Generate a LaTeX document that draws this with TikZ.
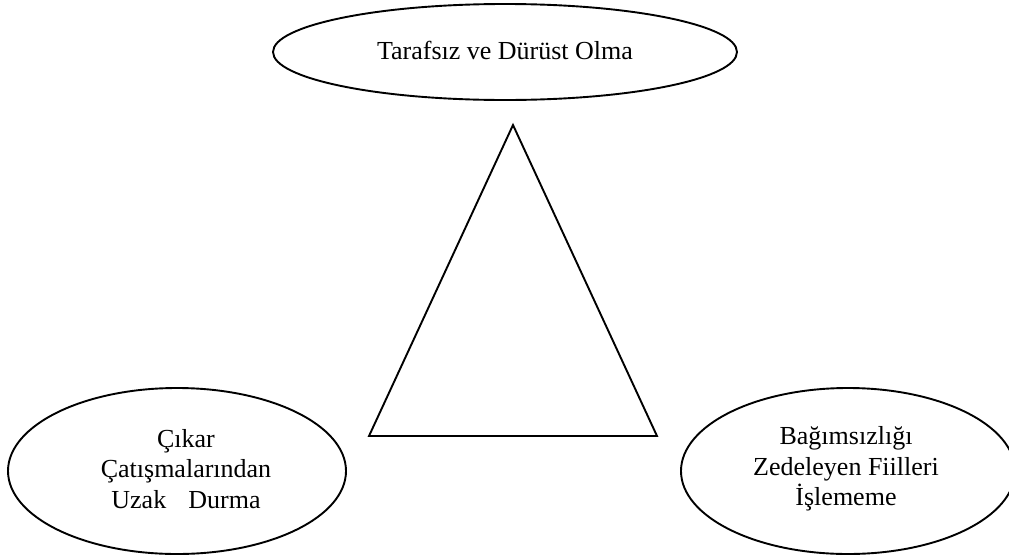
\documentclass[tikz,border=0pt]{standalone}
\usepackage{fontspec}
\setmainfont{Liberation Serif}
\usetikzlibrary{shapes.geometric}
\begin{document}
\begin{tikzpicture}[x=1pt,y=-1pt,
  oval/.style={draw, ellipse, line width=1.9pt, inner sep=0pt},
  label text/.style={font=\fontsize{26}{30.5}\selectfont, align=center, inner sep=0pt},
  edge line/.style={line width=1.9pt, line join=miter}]
  \useasboundingbox (0,0) rectangle (1009,557);

  % the three principles
  \node[oval, minimum width=464pt, minimum height=96pt] (top) at (505,52) {};
  \node[label text] (toptext) at (505,50) {Tarafsız ve Dürüst Olma};

  \node[oval, minimum width=338pt, minimum height=166pt] (left) at (177,471) {};
  \node[label text] (lefttext) at (186,469) {Çıkar\\Çatışmalarından\\Uzak\hspace{0.85em}Durma};

  \node[oval, minimum width=334pt, minimum height=166pt] (right) at (848,471) {};
  \node[label text] (righttext) at (846,469) {Bağımsızlığı\\Zedeleyen Fiilleri\\İşlememe};

  % central triangle
  \coordinate (apex) at (513,125);
  \coordinate (bl) at (369,436);
  \coordinate (br) at (657,436);
  \draw[edge line] (apex) -- (br) -- (bl) -- cycle;
\end{tikzpicture}
\end{document}
